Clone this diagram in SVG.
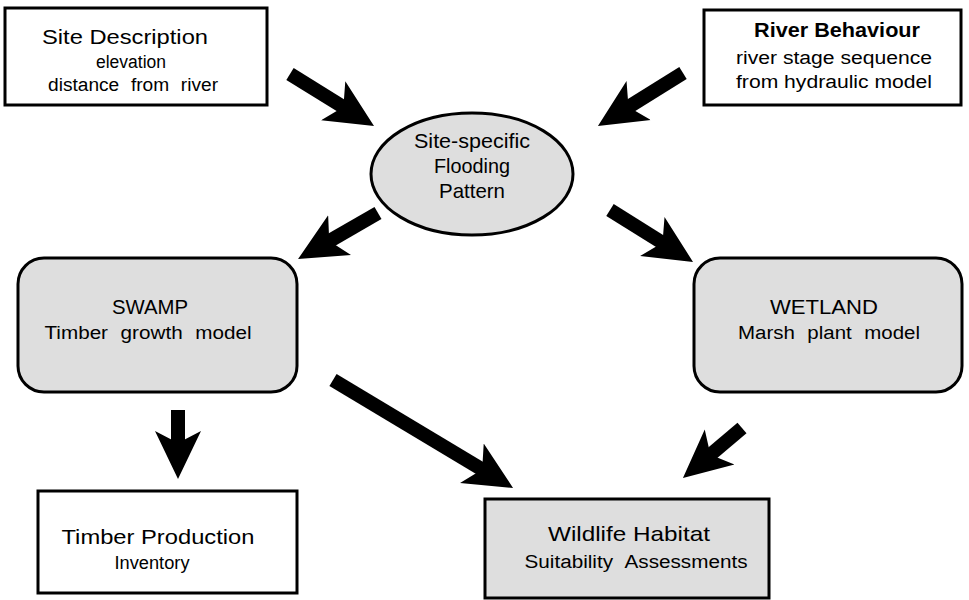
<svg xmlns="http://www.w3.org/2000/svg" width="969" height="600" viewBox="0 0 969 600">
<style>
.box{fill:#fff;stroke:#000;stroke-width:3}
.gray{fill:#dedede;stroke:#000;stroke-width:3}
text{font-family:"Liberation Sans",Arial,sans-serif;fill:#000;text-anchor:middle}
.t{font-size:21px}
.s{font-size:18px}
.w{word-spacing:6px}
.b{font-weight:bold;font-size:20px}
.arr{stroke:#000;stroke-width:14;fill:none;marker-end:url(#head)}
</style>
<defs>
<marker id="head" markerUnits="userSpaceOnUse" viewBox="0 0 48 48" markerWidth="48" markerHeight="48" refX="14" refY="24" orient="auto">
<path d="M0,1 L48,24 L0,47 L12,24 z" fill="#000"/>
</marker>
</defs>
<rect width="969" height="600" fill="#fff"/>
<g id="connectors">
<line class="arr" x1="290" y1="74" x2="345.1" y2="108.1"/>
<line class="arr" x1="683" y1="73" x2="626.8" y2="108"/>
<line class="arr" x1="378" y1="213" x2="327.5" y2="242.1"/>
<line class="arr" x1="610" y1="210" x2="664.2" y2="243.9"/>
<line class="arr" x1="178" y1="410" x2="178" y2="445"/>
<line class="arr" x1="333" y1="380" x2="483.9" y2="470.5"/>
<line class="arr" x1="742" y1="428" x2="708.9" y2="456"/>
</g>
<g id="site-description">
<rect class="box" x="5" y="8" width="262" height="97"/>
<text class="t" x="125" y="44" textLength="166" lengthAdjust="spacingAndGlyphs">Site Description</text>
<text class="s" x="131" y="68" textLength="70" lengthAdjust="spacingAndGlyphs">elevation</text>
<text class="s w" x="133" y="91" textLength="170" lengthAdjust="spacingAndGlyphs">distance from river</text>
</g>
<g id="river-behaviour">
<rect class="box" x="704" y="10" width="257" height="95"/>
<text class="b" x="837" y="37" textLength="166" lengthAdjust="spacingAndGlyphs">River Behaviour</text>
<text class="s" x="834" y="64" textLength="196" lengthAdjust="spacingAndGlyphs">river stage sequence</text>
<text class="s" x="834" y="88" textLength="196" lengthAdjust="spacingAndGlyphs">from hydraulic model</text>
</g>
<g id="flooding-pattern">
<ellipse class="gray" cx="472" cy="174" rx="101" ry="61"/>
<text class="t" x="472" y="148" textLength="116" lengthAdjust="spacingAndGlyphs">Site-specific</text>
<text class="t" x="472" y="173" textLength="76" lengthAdjust="spacingAndGlyphs">Flooding</text>
<text class="t" x="472" y="198" textLength="66" lengthAdjust="spacingAndGlyphs">Pattern</text>
</g>
<g id="swamp">
<rect class="gray" x="18" y="258" width="279" height="134" rx="26"/>
<text class="t" x="150" y="314" textLength="76" lengthAdjust="spacingAndGlyphs">SWAMP</text>
<text class="s w" x="148" y="339" textLength="207" lengthAdjust="spacingAndGlyphs">Timber growth model</text>
</g>
<g id="wetland">
<rect class="gray" x="694" y="258" width="268" height="134" rx="26"/>
<text class="t" x="824" y="314" textLength="108" lengthAdjust="spacingAndGlyphs">WETLAND</text>
<text class="s w" x="829" y="339" textLength="182" lengthAdjust="spacingAndGlyphs">Marsh plant model</text>
</g>
<g id="timber-production">
<rect class="box" x="38" y="491" width="259" height="102"/>
<text class="t" x="158" y="544" textLength="193" lengthAdjust="spacingAndGlyphs">Timber Production</text>
<text class="s" x="152" y="569" textLength="75" lengthAdjust="spacingAndGlyphs">Inventory</text>
</g>
<g id="wildlife-habitat">
<rect class="gray" x="485" y="499" width="284" height="99"/>
<text class="t" x="629" y="541" textLength="162" lengthAdjust="spacingAndGlyphs">Wildlife Habitat</text>
<text class="s w" x="636" y="568" textLength="223" lengthAdjust="spacingAndGlyphs">Suitability Assessments</text>
</g>
</svg>
